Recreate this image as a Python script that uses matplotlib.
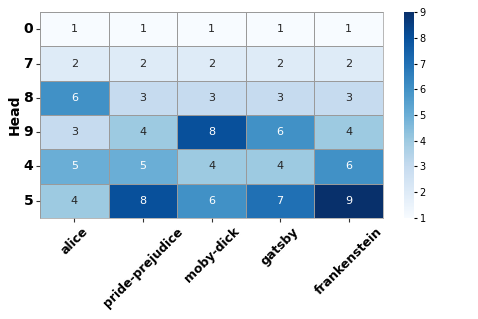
import matplotlib
matplotlib.use("Agg")
import matplotlib.pyplot as plt
import seaborn as sns
import numpy as np

books = ["alice", "pride-prejudice", "moby-dick", "gatsby", "frankenstein"]
heads = ["0", "7", "8", "9", "4", "5"]
row_0 = [1, 1, 1, 1, 1]
row_7 = [2, 2, 2, 2, 2]
row_8 = [6, 3, 3, 3, 3]
row_9 = [3, 4, 8, 6, 4]
row_4 = [5, 5, 4, 4, 6]
row_5 = [4, 8, 6, 7, 9]
values = np.array([row_0, row_7, row_8, row_9, row_4, row_5])

fig = plt.figure(figsize=(4.78, 3.19), dpi=100)
ax = fig.add_axes([0.084, 0.317, 0.717, 0.645])
cax = fig.add_axes([0.845, 0.317, 0.021, 0.645])
sns.heatmap(values, ax=ax, cbar_ax=cax, cmap="Blues", vmin=1, vmax=9,
            annot=True, fmt="d", annot_kws={"fontsize": 8},
            linewidths=0.5, linecolor="#9a9a9a",
            xticklabels=books, yticklabels=heads)
ax.set_ylabel("Head", fontsize=10, fontweight="bold", labelpad=1)
ax.set_yticklabels(heads, rotation=0, fontsize=10, fontweight="bold")
ax.set_xticklabels(books, rotation=45, ha="center",
                   fontsize=9, fontweight="heavy")
ax.tick_params(axis="both", length=3, width=0.8, color="#333333", pad=2)
for s in ax.spines.values():
    s.set_visible(True)
    s.set_color("#9a9a9a")
    s.set_linewidth(0.5)
cax.tick_params(labelsize=7, length=2.5, pad=1.5)
cb = ax.collections[0].colorbar
cb.outline.set_visible(False)
fig.savefig("out.png", dpi=100)
